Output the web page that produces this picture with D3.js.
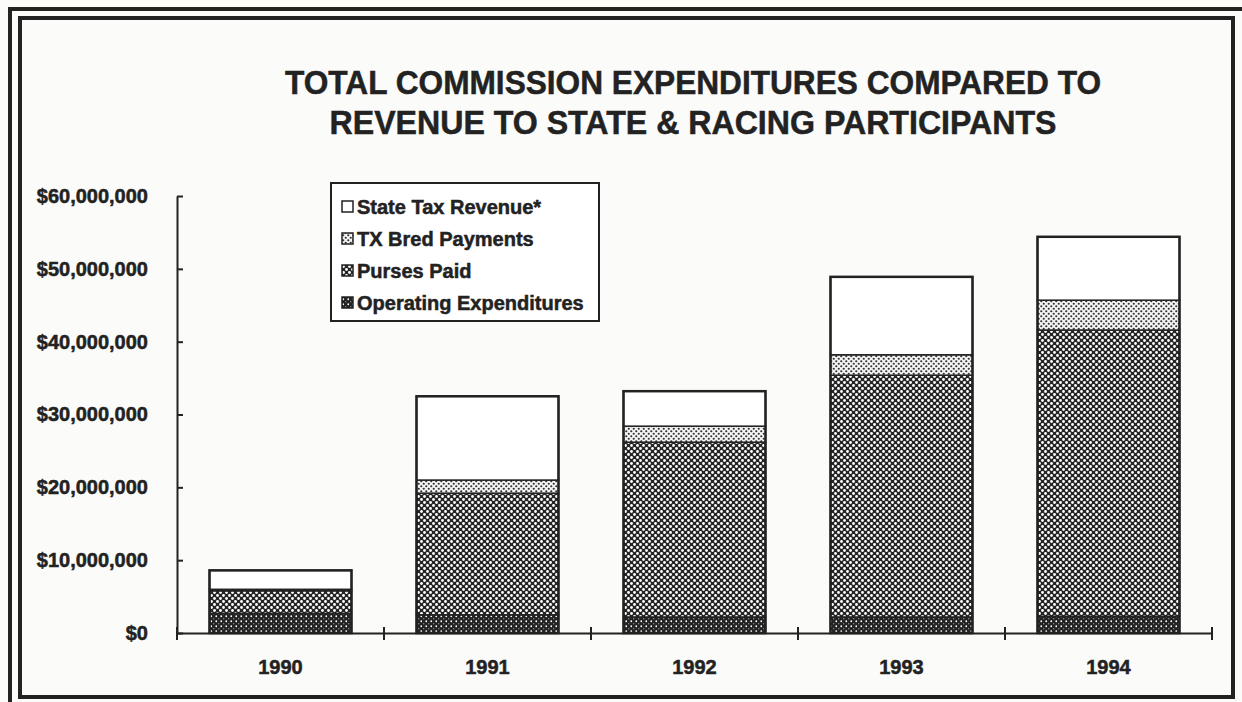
<!DOCTYPE html>
<html>
<head>
<meta charset="utf-8">
<script src="https://cdn.jsdelivr.net/npm/d3@7"></script>
<style>
  body { margin: 0; background: #fbfbf9; }
  svg { display: block; }
</style>
</head>
<body>
<svg id="chart"></svg>
<script>
// data (dollars)
const years = ["1990", "1991", "1992", "1993", "1994"];
const operatingExpenditures = [2700000, 2500000, 2200000, 2200000, 2300000];
const pursesPaid = [3100000, 16700000, 24000000, 33200000, 39300000];
const txBredPayments = [200000, 1800000, 2200000, 2800000, 4100000];
const stateTaxRevenue = [2600000, 11500000, 4800000, 10700000, 8700000];
const yTicks = [0, 10000000, 20000000, 30000000, 40000000, 50000000, 60000000];
const seriesKeys = ["operating", "purses", "txbred", "statetax"];
const legendLabels = ["State Tax Revenue*", "TX Bred Payments", "Purses Paid", "Operating Expenditures"];

const rows = years.map((y, i) => ({
    year: y,
    operating: operatingExpenditures[i],
    purses: pursesPaid[i],
    txbred: txBredPayments[i],
    statetax: stateTaxRevenue[i]
}));

const w = 1242, h = 702;
const ink = "#222";
const font = "'Liberation Sans', Arial, sans-serif";

const svg = d3.select("#chart").attr("width", w).attr("height", h);

// fill patterns, like the old halftone screens
const defs = svg.append("defs");

let p = defs.append("pattern").attr("id", "pat-operating")
    .attr("patternUnits", "userSpaceOnUse").attr("width", 5).attr("height", 5);
p.append("rect").attr("width", 5).attr("height", 5).attr("fill", ink);
p.append("circle").attr("cx", 1.25).attr("cy", 1.25).attr("r", 0.9).attr("fill", "#fff");
p.append("circle").attr("cx", 3.75).attr("cy", 3.75).attr("r", 0.6).attr("fill", "#ddd");

p = defs.append("pattern").attr("id", "pat-purses")
    .attr("patternUnits", "userSpaceOnUse").attr("width", 6).attr("height", 6);
p.append("rect").attr("width", 6).attr("height", 6).attr("fill", "#252525");
p.append("circle").attr("cx", 1.5).attr("cy", 1.5).attr("r", 1.4).attr("fill", "#fff");
p.append("circle").attr("cx", 4.5).attr("cy", 4.5).attr("r", 1.4).attr("fill", "#fff");

p = defs.append("pattern").attr("id", "pat-txbred")
    .attr("patternUnits", "userSpaceOnUse").attr("width", 5).attr("height", 5);
p.append("rect").attr("width", 5).attr("height", 5).attr("fill", "#f4f4f4");
p.append("circle").attr("cx", 1.25).attr("cy", 1.25).attr("r", 1.1).attr("fill", "#333");
p.append("circle").attr("cx", 3.75).attr("cy", 3.75).attr("r", 1.1).attr("fill", "#333");

const fills = {
    operating: "url(#pat-operating)",
    purses: "url(#pat-purses)",
    txbred: "url(#pat-txbred)",
    statetax: "#fff"
};

// page frame: double rule on top/left, inner box all round
svg.append("rect").attr("x", 10).attr("y", 9).attr("width", w + 20).attr("height", h + 20)
    .attr("fill", "none").attr("stroke", ink).attr("stroke-width", 4);
svg.append("rect").attr("x", 20).attr("y", 18).attr("width", 1213).attr("height", 679)
    .attr("fill", "none").attr("stroke", ink).attr("stroke-width", 4);

// title
const title = ["TOTAL COMMISSION EXPENDITURES COMPARED TO", "REVENUE TO STATE & RACING PARTICIPANTS"];
const titleLens = [816, 727];
svg.append("g").selectAll("text")
    .data(title)
    .join("text")
    .attr("x", 693)
    .attr("y", (d, i) => 94 + i * 40)
    .attr("text-anchor", "middle")
    .attr("textLength", (d, i) => titleLens[i])
    .attr("lengthAdjust", "spacingAndGlyphs")
    .style("font-family", font)
    .style("font-weight", "bold")
    .style("font-size", "34px")
    .style("fill", ink)
    .style("stroke", ink)
    .style("stroke-width", 0.5)
    .text(d => d);

// scales
const xScale = d3.scaleBand()
    .domain(years)
    .range([177, 1212])
    .paddingInner(0.314)
    .paddingOuter(0.157);

const yScale = d3.scaleLinear()
    .domain([0, 60000000])
    .range([633, 196]);

const series = d3.stack().keys(seriesKeys)(rows);

// bars
const bars = svg.append("g");
bars.selectAll("g")
    .data(series)
    .join("g")
    .attr("fill", d => fills[d.key])
    .selectAll("rect")
    .data(d => d)
    .join("rect")
    .attr("x", d => xScale(d.data.year))
    .attr("y", d => yScale(d[1]))
    .attr("width", xScale.bandwidth())
    .attr("height", d => yScale(d[0]) - yScale(d[1]))
    .attr("stroke", ink)
    .attr("stroke-width", 1.5);

// outline of each stacked bar
bars.append("g").selectAll("rect")
    .data(series[series.length - 1])
    .join("rect")
    .attr("x", d => xScale(d.data.year))
    .attr("y", d => yScale(d[1]))
    .attr("width", xScale.bandwidth())
    .attr("height", d => yScale(0) - yScale(d[1]))
    .attr("fill", "none")
    .attr("stroke", ink)
    .attr("stroke-width", 2.5);

// y axis, ticks cross the line
const money = d => "$" + d3.format(",")(d);
const yAxis = g => g
    .attr("transform", "translate(177,0)")
    .call(d3.axisLeft(yScale).tickValues(yTicks).tickFormat(money).tickSize(6).tickSizeOuter(0))
    .call(g => g.select(".domain").attr("stroke", ink).attr("stroke-width", 2))
    .call(g => g.selectAll(".tick line").attr("x2", 6).attr("stroke", ink).attr("stroke-width", 2))
    .call(g => g.selectAll(".tick text")
        .attr("x", -29)
        .style("font-family", font)
        .style("font-weight", "bold")
        .style("font-size", "20px")
        .style("fill", ink)
        .style("stroke", ink)
        .style("stroke-width", 0.5));
svg.append("g").call(yAxis);

// x axis with boundary ticks between categories
const xAxis = g => g
    .attr("transform", "translate(0,633)")
    .call(d3.axisBottom(xScale).tickSize(0).tickSizeOuter(0))
    .call(g => g.select(".domain").attr("stroke", ink).attr("stroke-width", 2))
    .call(g => g.selectAll(".tick text")
        .attr("y", 27)
        .style("font-family", font)
        .style("font-weight", "bold")
        .style("font-size", "20px")
        .style("fill", ink)
        .style("stroke", ink)
        .style("stroke-width", 0.5));
svg.append("g").call(xAxis);

const boundaries = d3.range(years.length + 1).map(i => xScale.range()[0] + i * xScale.step());
svg.append("g").selectAll("line")
    .data(boundaries)
    .join("line")
    .attr("x1", d => d).attr("x2", d => d)
    .attr("y1", 627).attr("y2", 640)
    .attr("stroke", ink)
    .attr("stroke-width", 2);

// legend
const legend = svg.append("g").attr("transform", "translate(331,183)");
legend.append("rect")
    .attr("width", 268).attr("height", 138)
    .attr("fill", "#fff")
    .attr("stroke", ink)
    .attr("stroke-width", 2);

const legendKeys = seriesKeys.slice().reverse();
const item = legend.selectAll("g.item")
    .data(legendKeys)
    .join("g")
    .attr("class", "item")
    .attr("transform", (d, i) => `translate(11,${24 + i * 32})`);
item.append("rect")
    .attr("x", 0).attr("y", -6)
    .attr("width", 11).attr("height", 11)
    .attr("fill", d => fills[d])
    .attr("stroke", ink)
    .attr("stroke-width", 1.5);
item.append("text")
    .attr("x", 15)
    .attr("y", 0)
    .attr("dy", "0.35em")
    .style("font-family", font)
    .style("font-weight", "bold")
    .style("font-size", "20px")
    .style("fill", ink)
    .style("stroke", ink)
    .style("stroke-width", 0.5)
    .text((d, i) => legendLabels[i]);
</script>
</body>
</html>
